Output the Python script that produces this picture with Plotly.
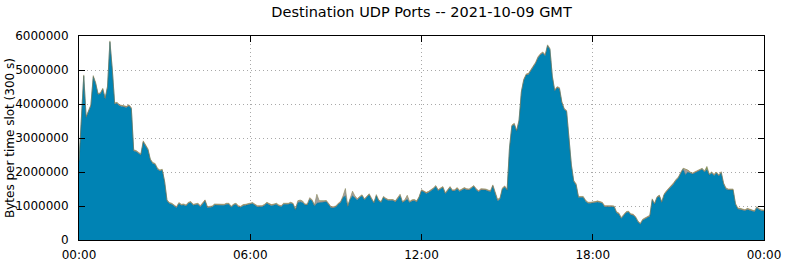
import pandas as pd
import plotly.graph_objects as go

# 5-minute slots on 2021-10-09 (GMT), values in millions of bytes per slot (dominant series)
main_mb = [
    2.30, 3.65, 4.82, 3.60, 3.80, 3.95, 4.80, 4.60, 4.28, 4.30, 4.43, 4.15,
    4.50, 5.82, 5.00, 4.00, 4.02, 3.95, 3.93, 3.92, 3.90, 3.95, 3.86, 2.62,
    2.60, 2.55, 2.50, 2.88, 2.75, 2.65, 2.35, 2.25, 2.22, 2.08, 2.03, 2.05,
    1.70, 1.15, 1.07, 1.05, 1.00, 0.95, 1.07, 1.02, 1.03, 1.00, 1.08, 1.10,
    1.02, 1.03, 1.05, 0.98, 1.05, 1.15, 0.95, 0.95, 0.97, 1.03, 1.03, 1.02,
    1.03, 1.02, 1.05, 1.05, 0.96, 1.03, 1.05, 0.98, 0.96, 1.01, 1.02, 1.03,
    1.04, 1.07, 1.02, 0.98, 0.98, 0.98, 1.02, 1.08, 1.04, 1.01, 1.03, 1.05,
    1.00, 0.98, 1.05, 1.05, 1.05, 1.08, 1.05, 0.88, 1.10, 1.12, 1.10, 1.03,
    1.03, 1.20, 1.15, 1.00, 1.08, 1.10, 1.10, 1.12, 1.13, 1.05, 0.95, 0.95,
    0.97, 1.05, 1.10, 1.25, 1.30, 0.98, 1.20, 1.30, 1.25, 1.18, 1.25, 1.30,
    1.18, 1.25, 1.33, 1.20, 1.08, 1.30, 1.15, 1.10, 1.25, 1.20, 1.16, 1.16,
    1.16, 1.12, 1.20, 1.30, 1.10, 1.15, 1.20, 1.10, 1.15, 1.16, 1.12, 1.25,
    1.45, 1.42, 1.37, 1.40, 1.44, 1.50, 1.57, 1.45, 1.50, 1.54, 1.36, 1.45,
    1.54, 1.44, 1.45, 1.51, 1.43, 1.47, 1.51, 1.48, 1.47, 1.52, 1.57, 1.48,
    1.42, 1.48, 1.48, 1.47, 1.44, 1.42, 1.59, 1.35, 1.15, 1.20, 1.50, 1.56,
    1.46, 2.70, 3.35, 3.40, 3.20, 3.50, 4.35, 4.70, 4.85, 4.87, 4.98, 5.10,
    5.20, 5.36, 5.45, 5.50, 5.42, 5.71, 5.60, 4.80, 4.38, 4.48, 4.45, 4.04,
    3.84, 3.78, 3.06, 2.20, 1.72, 1.62, 1.25, 1.24, 1.25, 1.14, 1.08, 1.08,
    1.08, 1.10, 1.12, 1.10, 1.08, 0.98, 0.99, 0.98, 0.98, 0.97, 0.80, 0.76,
    0.63, 0.72, 0.80, 0.82, 0.74, 0.73, 0.66, 0.53, 0.46, 0.58, 0.62, 0.68,
    0.70, 1.18, 1.05, 1.24, 1.29, 1.10, 1.32, 1.42, 1.50, 1.55, 1.65, 1.75,
    1.82, 1.96, 2.08, 1.92, 2.00, 1.97, 1.94, 1.98, 2.02, 2.05, 2.08, 2.00,
    2.08, 1.91, 1.97, 1.90, 1.97, 1.88, 1.98, 1.65, 1.50, 1.47, 1.46, 1.47,
    1.05, 0.91, 0.90, 0.88, 0.86, 0.90, 0.87, 0.86, 0.83, 0.95, 0.89, 0.86,
    0.85,
]

# thin secondary series, in thousands of bytes per slot
grey_kb = [
    15, 15, 20, 15, 15, 15, 20, 15, 15, 15, 15, 15,
    15, 20, 15, 15, 15, 15, 15, 15, 15, 15, 15, 15,
    15, 15, 15, 20, 15, 15, 15, 15, 15, 15, 15, 15,
    15, 15, 15, 15, 15, 15, 15, 15, 15, 15, 15, 15,
    15, 15, 15, 15, 15, 15, 15, 15, 15, 15, 15, 15,
    15, 15, 15, 15, 15, 15, 15, 15, 15, 15, 15, 15,
    15, 15, 15, 15, 15, 15, 15, 15, 15, 15, 15, 15,
    15, 15, 15, 15, 15, 15, 15, 15, 40, 40, 30, 15,
    15, 30, 20, 15, 250, 40, 30, 20, 15, 15, 15, 15,
    15, 15, 20, 30, 200, 20, 20, 120, 30, 20, 15, 15,
    15, 15, 15, 15, 15, 20, 15, 15, 15, 15, 15, 15,
    15, 15, 20, 30, 15, 15, 100, 15, 15, 15, 15, 15,
    15, 15, 15, 15, 15, 15, 15, 15, 15, 15, 15, 15,
    15, 15, 15, 15, 15, 15, 15, 15, 15, 15, 15, 15,
    15, 15, 15, 15, 15, 15, 15, 15, 30, 20, 15, 15,
    15, 15, 15, 15, 15, 15, 15, 15, 15, 15, 15, 15,
    15, 15, 15, 15, 15, 15, 15, 15, 15, 15, 15, 15,
    15, 15, 15, 15, 15, 15, 15, 15, 15, 15, 15, 15,
    15, 15, 15, 15, 15, 15, 15, 15, 15, 15, 15, 15,
    15, 15, 15, 15, 15, 15, 15, 15, 15, 15, 15, 15,
    15, 15, 15, 15, 15, 15, 15, 15, 15, 15, 15, 15,
    15, 15, 15, 150, 40, 15, 15, 15, 15, 15, 15, 15,
    15, 15, 15, 15, 15, 15, 15, 15, 15, 15, 15, 15,
    15, 15, 15, 15, 15, 15, 15, 15, 15, 15, 15, 15,
    15,
]
orange_kb = 10  # per-slot thickness of the thin orange band
green_kb = [6] * 289
green_kb[264] = 60

y_title = "Bytes per time slot (300 s)"
times = pd.date_range("2021-10-09 00:00", periods=len(main_mb), freq="5min")

main = [v * 1e6 for v in main_mb]
grey = [v * 1e3 for v in grey_kb]
orange = [orange_kb * 1e3 for _ in main_mb]
green = [v * 1e3 for v in green_kb]

fig = go.Figure()
series = [
    ("main", main, "#0083b4", "#1f6a84", 0.6),
    ("other", grey, "#9f9f9f", "#9f9f9f", 0),
    ("orange", orange, "#c8641e", "#c8641e", 0),
    ("green", green, "#6f8a30", "#7a7a50", 0.5),
]
for name, ys, fillc, linec, lw in series:
    fig.add_trace(go.Scatter(
        x=times, y=ys, name=name, mode="lines", stackgroup="one",
        fillcolor=fillc, line=dict(color=linec, width=lw),
        hoverinfo="skip",
    ))

L, R, T, B, W, H = 79, 21, 36, 24, 785, 264
tick_times = pd.date_range("2021-10-09 00:00", periods=5, freq="6h")
fig.update_layout(
    width=W, height=H,
    margin=dict(l=L, r=R, t=T, b=B, autoexpand=False),
    paper_bgcolor="white", plot_bgcolor="white",
    showlegend=False,
    font=dict(family="DejaVu Sans", size=12, color="black"),
    title=dict(text="Destination UDP Ports -- 2021-10-09 GMT", x=0.537, xanchor="center",
               y=0.955, yanchor="middle", font=dict(size=14.5)),
)
fig.add_annotation(
    text=y_title, textangle=-90, showarrow=False,
    xref="paper", yref="paper",
    x=(10 - L) / (W - L - R), y=0.5, xanchor="center", yanchor="middle",
    font=dict(size=12),
)
grid_kw = dict(showgrid=True, gridcolor="#a8a8a8", griddash="1px,3px", gridwidth=1)
fig.update_xaxes(
    range=[tick_times[0], tick_times[-1]],
    tickvals=list(tick_times), ticktext=["00:00", "06:00", "12:00", "18:00", "00:00"],
    ticks="inside", ticklen=6, tickcolor="black",
    showline=True, linecolor="black", linewidth=1, mirror="ticks",
    zeroline=False, tickfont=dict(size=12), automargin=False, ticklabelstandoff=4,
    **grid_kw,
)
fig.update_yaxes(
    range=[0, 6000000], tickvals=[0, 1000000, 2000000, 3000000, 4000000, 5000000, 6000000],
    ticktext=["0", "1000000", "2000000", "3000000", "4000000", "5000000", "6000000"],
    ticks="inside", ticklen=6, tickcolor="black",
    showline=True, linecolor="black", linewidth=1, mirror="ticks",
    zeroline=False, tickfont=dict(size=12), ticklabelstandoff=7, automargin=False,
    **grid_kw,
)
fig.write_html("out.html")
